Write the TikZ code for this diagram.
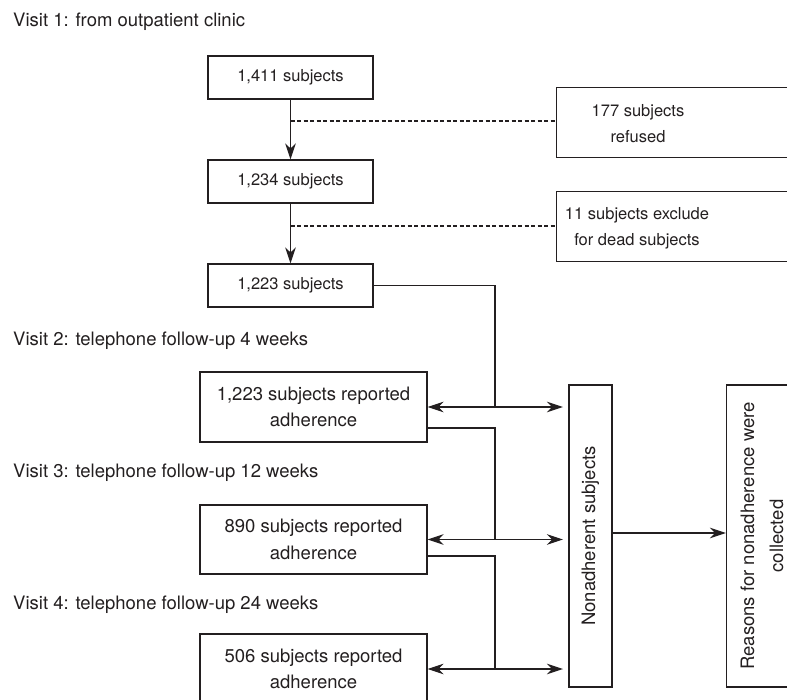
\documentclass[tikz,border=0pt]{standalone}
\usepackage{fontspec}
\setmainfont{TeX Gyre Heros}
\usetikzlibrary{arrows.meta}
\definecolor{ink}{HTML}{231F20}
\tikzset{
  box/.style={draw=ink, line width=1.1pt, rectangle, inner sep=0pt, align=center, text=ink},
  topfont/.style={font=\fontsize{16.5}{26}\selectfont},
  botfont/.style={font=\fontsize{18.5}{26.5}\selectfont},
  lbl/.style={text=ink, inner sep=0pt, font=\fontsize{18.5}{26.5}\selectfont},
  conn/.style={draw=ink, line width=1.1pt},
  dashconn/.style={draw=ink, line width=1.1pt, dash pattern=on 4pt off 2.5pt},
  tip/.tip={Stealth[length=16pt,width=10.5pt,inset=5pt]},
}
\begin{document}
\begin{tikzpicture}[x=1pt,y=-1pt]
\useasboundingbox (0,0) rectangle (787,700);
\clip (0,0) rectangle (787,700);
% visit labels
\node[lbl, anchor=base west] (l1) at (13,27) {Visit 1: from outpatient clinic};
\node[lbl, anchor=base west] (l2) at (13,346) {Visit 2: telephone follow-up 4 weeks};
\node[lbl, anchor=base west] (l3) at (13,477) {Visit 3: telephone follow-up 12 weeks};
\node[lbl, anchor=base west] (l4) at (13,609) {Visit 4: telephone follow-up 24 weeks};
% top boxes
\node[box, topfont, minimum width=165, minimum height=43] (b1) at (290.5,77.5) {1,411 subjects};
\node[box, topfont, minimum width=165, minimum height=43] (b2) at (290.5,181.5) {1,234 subjects};
\node[box, topfont, minimum width=165, minimum height=43] (b3) at (290.5,285.5) {1,223 subjects};
\node[box, minimum width=260, minimum height=70, anchor=north west] (ref) at (556,87) {};
\node[text=ink, topfont, align=center, inner sep=0pt] (reft) at (638,124) {177 subjects\\refused};
\node[box, minimum width=260, minimum height=70, anchor=north west] (exc) at (556,191) {};
\node[text=ink, topfont, align=center, inner sep=0pt] (exct) at (637,228) {11 subjects exclude\\for dead subjects};
% vertical arrows
\draw[conn, -tip] (b1) -- (b2);
\draw[conn, -tip] (b2) -- (b3);
\coordinate (d1) at (290.5,121);
\coordinate (d2) at (290.5,226);
\draw[dashconn] (d1) -- (ref.west |- d1);
\draw[dashconn] (d2) -- (exc.west |- d2);
% visit boxes
\node[box, botfont, minimum width=227, minimum height=70] (v2) at (313.5,407) {1,223 subjects reported\\adherence};
\node[box, botfont, minimum width=227, minimum height=69] (v3) at (313.5,539.5) {890 subjects reported\\adherence};
\node[box, botfont, minimum width=227, minimum height=70] (v4) at (313.5,669) {506 subjects reported\\adherence};
% right boxes
\node[box, botfont, rotate=90, minimum width=302, minimum height=43] (na) at (590.5,536) {Nonadherent subjects};
\node[box, minimum width=100, minimum height=302, anchor=west] (rs) at (726,536) {};
\node[text=ink, rotate=90, align=center, inner sep=0pt, font=\fontsize{18.5}{29}\selectfont] (rst) at (762,536) {Reasons for nonadherence were\\collected};
% connectors
\coordinate (a2) at (563,407);
\coordinate (a3) at (563,539.5);
\coordinate (a4) at (563,669);
\coordinate (j2) at (495,407);
\coordinate (j3) at (495,539.5);
\coordinate (j4) at (495,669);
\draw[conn] (b3.east) -| (j2);
\draw[conn] ([yshift=-21pt]v2.east) -| (j3);
\draw[conn] ([yshift=-16.5pt]v3.east) -| (j4);
\draw[conn, tip-tip] (v2.east) -- (a2);
\draw[conn, tip-tip] (v3.east) -- (a3);
\draw[conn, tip-tip] (v4.east) -- (a4);
\draw[conn, -tip] ([yshift=3pt]na.south) -- ([yshift=3pt]rs.west);
\end{tikzpicture}
\end{document}
